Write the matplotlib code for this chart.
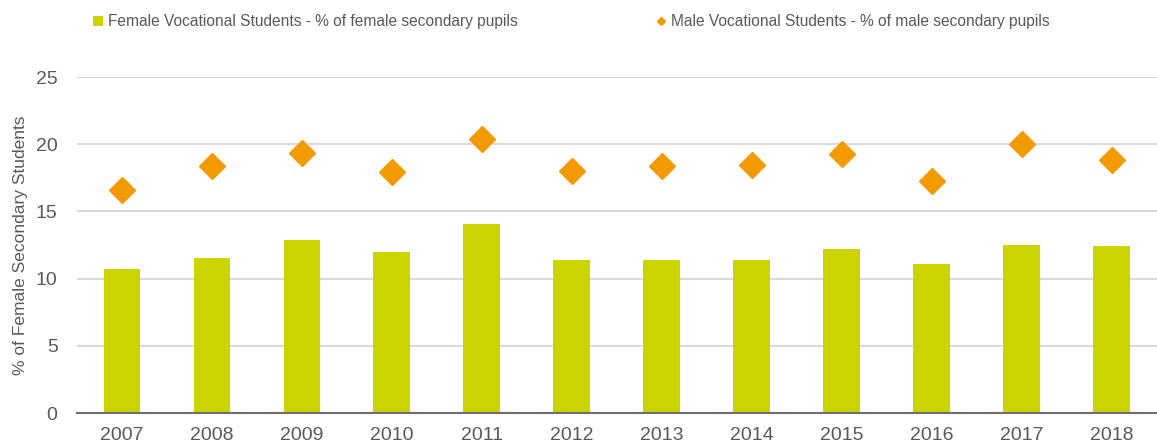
import matplotlib
matplotlib.use("Agg")
import matplotlib.pyplot as plt
import numpy as np

# --- Data ---
YEARS = ["2007", "2008", "2009", "2010", "2011", "2012",
         "2013", "2014", "2015", "2016", "2017", "2018"]
FEMALE_PCT = [10.7, 11.5, 12.9, 12.0, 14.1, 11.4, 11.4, 11.4, 12.2, 11.1, 12.5, 12.4]
MALE_PCT = [16.6, 18.4, 19.35, 17.9, 20.4, 18.0, 18.4, 18.45, 19.3, 17.3, 20.0, 18.8]

FEMALE_LABEL = "Female Vocational Students - % of female secondary pupils"
MALE_LABEL = "Male Vocational Students - % of male secondary pupils"
Y_LABEL = "% of Female Secondary Students"

# --- Styles ---
COLOR_BAR = "#CCD400"
COLOR_DIAMOND = "#F29A00"
COLOR_TEXT = "#595959"
COLOR_GRID = "#D9D9D9"

plt.rcParams["font.family"] = ["Liberation Sans", "DejaVu Sans"]

fig = plt.figure(figsize=(11.57, 4.48), dpi=100)
ax = fig.add_axes([0.0666, 0.078, 0.933, 0.750])

x = np.arange(len(YEARS))
bars = ax.bar(x, FEMALE_PCT, width=0.41, color=COLOR_BAR, zorder=2)
diamonds, = ax.plot(x, MALE_PCT, linestyle="none", marker="D", markersize=13,
                    color=COLOR_DIAMOND, zorder=3)

ax.set_xlim(-0.5, len(YEARS) - 0.5)
ax.set_ylim(0, 25)
ax.set_yticks(range(0, 26, 5))
ax.set_xticks(x)
ax.set_xticklabels(YEARS)

ax.grid(axis="y", color=COLOR_GRID, linewidth=1.5, zorder=0)
ax.set_axisbelow(True)
for side in ["top", "right", "left"]:
    ax.spines[side].set_visible(False)
ax.spines["bottom"].set_color("#6f6f6f")
ax.spines["bottom"].set_linewidth(1.5)
ax.spines["bottom"].set_zorder(4)

ax.tick_params(axis="both", length=0, labelsize=14, colors=COLOR_TEXT)
ax.tick_params(axis="x", pad=10)
ax.tick_params(axis="y", pad=14)
ax.set_ylabel(Y_LABEL, fontsize=12.5, color=COLOR_TEXT, labelpad=6)

# two legend entries placed separately along the top
fig.legend([bars], [FEMALE_LABEL], loc="center left",
           bbox_to_anchor=(0.0804, 0.951), frameon=False, fontsize=11.2,
           borderpad=0, borderaxespad=0,
           handlelength=0.66, handleheight=0.66, handletextpad=0.3,
           labelcolor=COLOR_TEXT)
fig.legend([diamonds], [MALE_LABEL], loc="center left",
           bbox_to_anchor=(0.566, 0.951), frameon=False, fontsize=11.2,
           borderpad=0, borderaxespad=0,
           handlelength=0.75, handletextpad=0.3, markerscale=0.32,
           labelcolor=COLOR_TEXT)

fig.savefig("out.png", dpi=100)
